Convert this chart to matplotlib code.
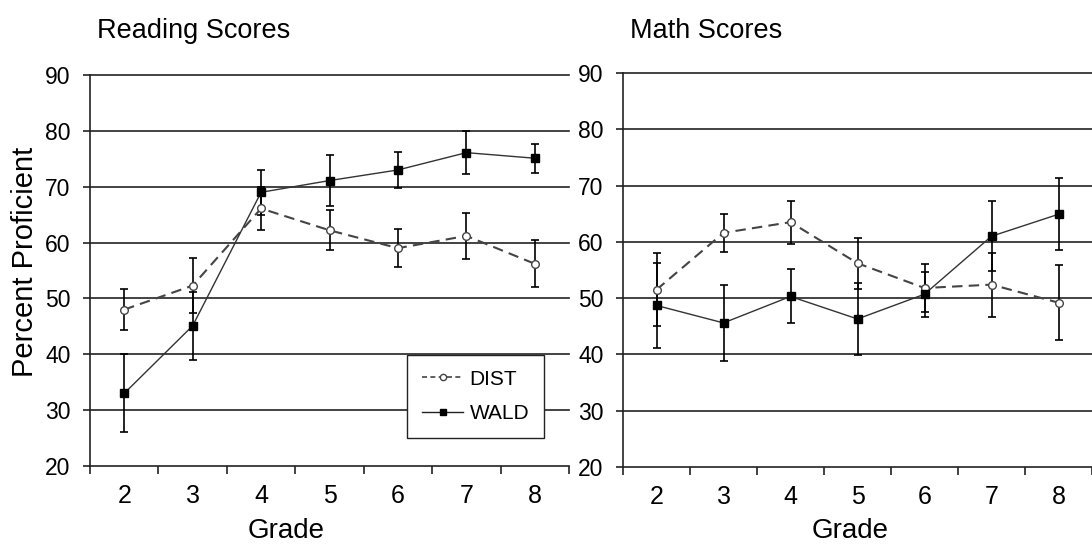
import numpy as np
import matplotlib
matplotlib.use("Agg")
import matplotlib.pyplot as plt
from matplotlib.lines import Line2D

plt.rcParams['font.family'] = ['Liberation Sans', 'DejaVu Sans']

grades = ["2", "3", "4", "5", "6", "7", "8"]

# Reading scores (percent proficient) and error half-widths
reading_dist = [48.0, 52.3, 66.1, 62.2, 59.0, 61.2, 56.2]
reading_dist_err = [3.7, 4.9, 3.8, 3.6, 3.4, 4.1, 4.2]
reading_wald = [33.0, 45.1, 69.0, 71.1, 73.0, 76.1, 75.1]
reading_wald_err = [7.0, 6.1, 4.0, 4.5, 3.3, 3.8, 2.6]

# Math scores
math_dist = [51.5, 61.6, 63.5, 56.2, 51.8, 52.4, 49.2]
math_dist_err = [6.5, 3.4, 3.8, 4.5, 4.3, 5.7, 6.6]
math_wald = [48.7, 45.6, 50.3, 46.3, 50.7, 61.0, 64.9]
math_wald_err = [7.6, 6.7, 4.8, 6.4, 4.0, 6.2, 6.4]

W, H = 1092, 548
fig = plt.figure(figsize=(W / 100, H / 100), dpi=100, facecolor='white')

# axes boxes in pixels: (left, top, right, bottom)
boxes = [(90, 75, 569, 466), (623, 73, 1092, 467)]
titles = ["Reading Scores", "Math Scores"]
panels = [
    (reading_dist, reading_dist_err, reading_wald, reading_wald_err),
    (math_dist, math_dist_err, math_wald, math_wald_err),
]

grid_color = '#222222'
x = np.arange(len(grades))

axes = []
for (l, t, r, b), title, (dist, dist_err, wald, wald_err) in zip(boxes, titles, panels):
    ax = fig.add_axes([l / W, 1 - b / H, (r - l) / W, (b - t) / H])
    axes.append(ax)
    ax.set_xlim(-0.5, len(grades) - 0.5)
    ax.set_ylim(20, 90)

    for v in range(30, 91, 10):
        ax.axhline(v, color=grid_color, lw=1.2, zorder=1, clip_on=False)

    # error bars
    ax.errorbar(x, dist, yerr=dist_err, fmt='none', ecolor='black',
                elinewidth=1.2, capsize=3, capthick=1.2, zorder=2)
    ax.errorbar(x, wald, yerr=wald_err, fmt='none', ecolor='black',
                elinewidth=1.2, capsize=3, capthick=1.2, zorder=2)

    ax.plot(x, dist, color='#444444', lw=1.5, ls=(0, (5, 3)), marker='o',
            markersize=5.5, markerfacecolor='white', markeredgecolor='#444444',
            markeredgewidth=1.0, zorder=3)
    ax.plot(x, wald, color='#333333', lw=1.0, ls='-', marker='s',
            markersize=6, markerfacecolor='black', markeredgecolor='black',
            zorder=4)

    # boundary ticks, labels at category centres
    ax.set_xticks(np.arange(-0.5, len(grades), 1.0))
    ax.set_xticklabels([])
    ax.set_xticks(x, minor=True)
    ax.set_xticklabels(grades, minor=True, fontsize=18)
    ax.tick_params(axis='x', which='major', direction='out', length=6,
                   width=1.2, color=grid_color)
    ax.tick_params(axis='x', which='minor', length=0, pad=13)

    ax.set_yticks(range(20, 91, 10))
    ax.tick_params(axis='y', direction='out', length=5, width=1.2,
                   color=grid_color, labelsize=16.5, pad=9)

    for side in ['top', 'right']:
        ax.spines[side].set_visible(False)
    for side in ['left', 'bottom']:
        ax.spines[side].set_color(grid_color)
        ax.spines[side].set_linewidth(1.2)

    fig.text((l + 7) / W, 1 - 38 / H, title, fontsize=19.5, ha='left',
             va='baseline')

fig.text(286 / W, 1 - 531 / H, "Grade", fontsize=20, ha='center', va='center')
fig.text(850 / W, 1 - 531 / H, "Grade", fontsize=20, ha='center', va='center')
fig.text(25 / W, 1 - 262 / H, "Percent Proficient", fontsize=21,
         rotation=90, ha='center', va='center')

handles = [
    Line2D([], [], color='#444444', lw=1.2, ls=(0, (3, 2)), marker='o',
           markersize=4.5, markerfacecolor='white', markeredgecolor='#444444'),
    Line2D([], [], color='#222222', lw=1.0, marker='s', markersize=5,
           markerfacecolor='black', markeredgecolor='black'),
]
leg = axes[0].legend(handles, ["DIST", "WALD"], loc='lower left',
                     bbox_to_anchor=(0.662, 0.072), fontsize=15,
                     frameon=True, fancybox=False, framealpha=1,
                     edgecolor='#222222', handlelength=2.0, handletextpad=0.3,
                     labelspacing=0.75, borderpad=0.7, borderaxespad=0)
leg.get_frame().set_linewidth(1.0)
leg.set_zorder(10)

fig.savefig("out.png", dpi=100, facecolor='white')
